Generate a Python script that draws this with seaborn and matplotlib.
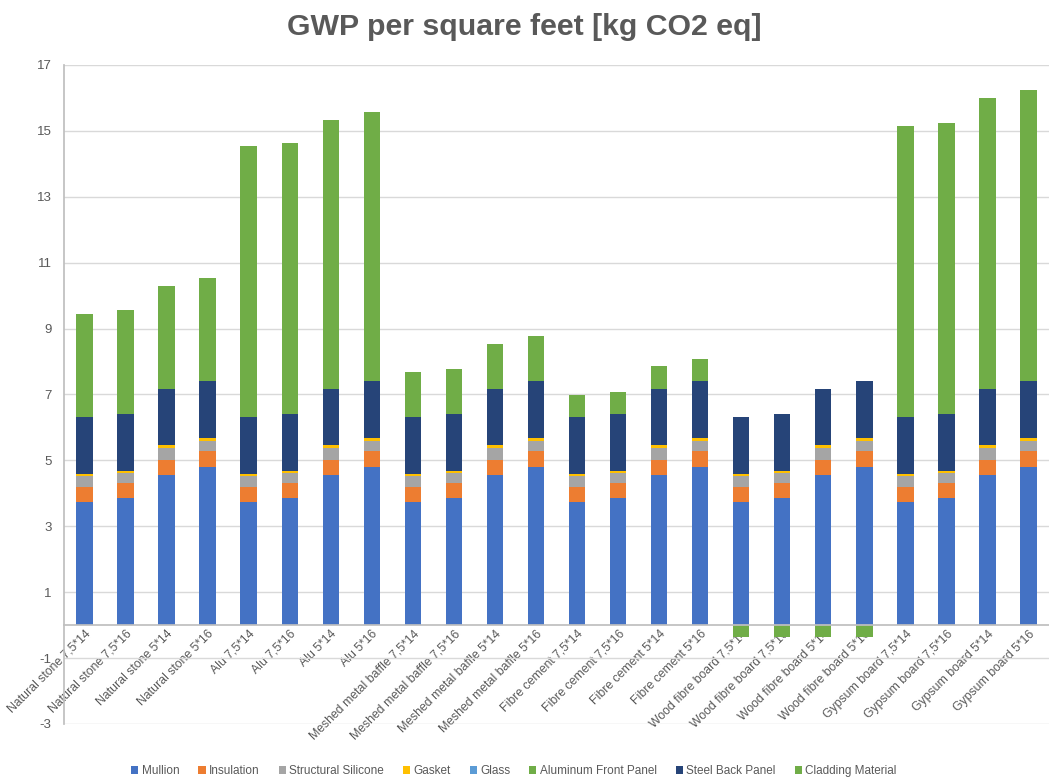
import numpy as np
import pandas as pd
import matplotlib
matplotlib.use("Agg")
import matplotlib.pyplot as plt
import seaborn as sns
from matplotlib.patches import Patch

# ===========================
# DATA
# ===========================

categories = [
    "Natural stone 7,5*14", "Natural stone 7,5*16", "Natural stone 5*14", "Natural stone 5*16",
    "Alu 7,5*14", "Alu 7,5*16", "Alu 5*14", "Alu 5*16",
    "Meshed metal baffle 7,5*14", "Meshed metal baffle 7,5*16", "Meshed metal baffle 5*14", "Meshed metal baffle 5*16",
    "Fibre cement 7,5*14", "Fibre cement 7,5*16", "Fibre cement 5*14", "Fibre cement 5*16",
    "Wood fibre board 7,5*14", "Wood fibre board 7,5*16", "Wood fibre board 5*14", "Wood fibre board 5*16",
    "Gypsum board 7,5*14", "Gypsum board 7,5*16", "Gypsum board 5*14", "Gypsum board 5*16",
]

mullion = [3.75, 3.85, 4.55, 4.80, 3.75, 3.85, 4.55, 4.80,
           3.75, 3.85, 4.55, 4.80, 3.75, 3.85, 4.55, 4.80,
           3.75, 3.85, 4.55, 4.80, 3.75, 3.85, 4.55, 4.80]
insulation = [0.45, 0.46, 0.46, 0.47, 0.45, 0.46, 0.46, 0.47,
              0.45, 0.46, 0.46, 0.47, 0.45, 0.46, 0.46, 0.47,
              0.45, 0.46, 0.46, 0.47, 0.45, 0.46, 0.46, 0.47]
structural_silicone = [0.33, 0.32, 0.38, 0.33, 0.33, 0.32, 0.38, 0.33,
                       0.33, 0.32, 0.38, 0.33, 0.33, 0.32, 0.38, 0.33,
                       0.33, 0.32, 0.38, 0.33, 0.33, 0.32, 0.38, 0.33]
gasket = [0.06, 0.06, 0.07, 0.07, 0.06, 0.06, 0.07, 0.07,
          0.06, 0.06, 0.07, 0.07, 0.06, 0.06, 0.07, 0.07,
          0.06, 0.06, 0.07, 0.07, 0.06, 0.06, 0.07, 0.07]
glass = [0.0] * 24
aluminum_front_panel = [0.0] * 24
steel_back_panel = [1.74, 1.73, 1.72, 1.74, 1.74, 1.73, 1.72, 1.74,
                    1.74, 1.73, 1.72, 1.74, 1.74, 1.73, 1.72, 1.74,
                    1.74, 1.73, 1.72, 1.74, 1.74, 1.73, 1.72, 1.74]
cladding_material = [3.12, 3.13, 3.11, 3.11, 8.20, 8.22, 8.14, 8.15,
                     1.34, 1.35, 1.34, 1.35, 0.66, 0.66, 0.67, 0.67,
                     -0.35, -0.35, -0.35, -0.35, 8.83, 8.83, 8.83, 8.84]

layers = ["Mullion", "Insulation", "Structural Silicone", "Gasket", "Glass",
          "Aluminum Front Panel", "Steel Back Panel", "Cladding Material"]
layer_colors = ["#4472C4", "#ED7D31", "#A5A5A5", "#FFC000", "#5B9BD5",
                "#70AD47", "#264478", "#70AD47"]

df = pd.DataFrame({
    "Category": categories,
    "Mullion": mullion,
    "Insulation": insulation,
    "Structural Silicone": structural_silicone,
    "Gasket": gasket,
    "Glass": glass,
    "Aluminum Front Panel": aluminum_front_panel,
    "Steel Back Panel": steel_back_panel,
    "Cladding Material": cladding_material,
})

# cumulative tops (positive and negative stacks separately, like Excel)
pos = df[layers].clip(lower=0).cumsum(axis=1)
neg = df[layers].clip(upper=0).cumsum(axis=1)

# ===========================
# PLOT
# ===========================

sns.set_theme(style="white")
plt.rcParams["font.family"] = ["Liberation Sans", "DejaVu Sans"]
plt.rcParams["axes.unicode_minus"] = False

text_color = "#595959"

fig = plt.figure(figsize=(10.49, 7.83), dpi=100)
ax = fig.add_axes([0.061, 0.0754, 0.939, 0.8416])

# draw from top layer down so lower layers cover upper ones
for layer, color in reversed(list(zip(layers, layer_colors))):
    sns.barplot(x=df["Category"], y=pos[layer], color=color, saturation=1,
                width=0.4, linewidth=0, ax=ax, order=categories)
for layer, color in reversed(list(zip(layers, layer_colors))):
    if (neg[layer] < 0).any():
        sns.barplot(x=df["Category"], y=neg[layer], color=color, saturation=1,
                    width=0.4, linewidth=0, ax=ax, order=categories)

ax.set_ylim(-3, 17)
ax.set_xlim(-0.5, 23.5)
ax.set_yticks(np.arange(-3, 18, 2))
ax.yaxis.grid(True, color="#D9D9D9", linewidth=1)
ax.set_axisbelow(True)

for s in ["top", "right"]:
    ax.spines[s].set_visible(False)
ax.spines["left"].set_color("#BFBFBF")
ax.spines["bottom"].set_color("#BFBFBF")
ax.spines["bottom"].set_position(("data", 0))

ax.set_xlabel("")
ax.set_ylabel("")
ax.tick_params(axis="y", length=0, pad=9, labelsize=9.5, labelcolor=text_color)
ax.tick_params(axis="x", length=0, pad=2, labelsize=8.8, labelcolor=text_color)
ax.set_xticks(range(len(categories)))
ax.set_xticklabels(categories, rotation=45, ha="right", rotation_mode="anchor")

fig.suptitle("GWP per square feet [kg CO2 eq]", x=0.5, y=0.984,
             fontsize=21.8, fontweight="bold", color=text_color)

handles = [Patch(facecolor=c, edgecolor="none") for c in layer_colors]
fig.legend(handles, layers, loc="center", bbox_to_anchor=(0.49, 0.015), ncol=8,
           frameon=False, fontsize=8.5, handlelength=0.6, handleheight=0.6,
           handletextpad=0.3, columnspacing=1.6, labelcolor=text_color)

fig.savefig("out.png", dpi=100)
